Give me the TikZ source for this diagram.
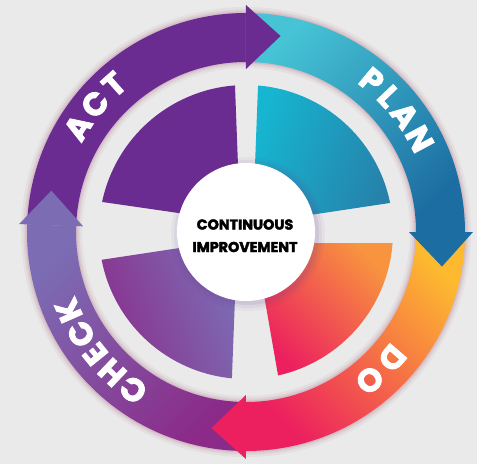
\documentclass[tikz,border=0pt]{standalone}
\usepackage{fontspec}
\newfontfamily\heavy{Poppins}[BoldFeatures={FakeBold=2.6}]
\definecolor{bgcol}{HTML}{EAEAEA}
\definecolor{actc}{HTML}{6A2C91}
\definecolor{planlight}{HTML}{46C4D5}
\definecolor{planmid}{HTML}{1FA0C4}
\definecolor{plandark}{HTML}{1C6EA2}
\definecolor{trlight}{HTML}{16B5D0}
\definecolor{trdark}{HTML}{2682AB}
\definecolor{doyel}{HTML}{FDB92F}
\definecolor{doorg}{HTML}{F47A4A}
\definecolor{dopink}{HTML}{EC1F5F}
\definecolor{chklav}{HTML}{7C6CB4}
\definecolor{chkmid}{HTML}{8448A0}
\definecolor{chkmag}{HTML}{8B2A88}
\definecolor{shadowc}{HTML}{A0506E}
\definecolor{circshadow}{HTML}{6A3A8A}
\tikzset{
  band/.style 2 args={insert path={(#1:219) arc[start angle=#1,end angle=#2,radius=219] -- (#2:170) arc[start angle=#2,end angle=#1,radius=170] -- cycle}},
  head/.style 2 args={insert path={(#1:163) -- (#2:199) -- (#1:227) -- cycle}},
  ringtxt/.style={font=\heavy\bfseries\fontsize{32}{32}\selectfont, text=white, inner sep=0pt, anchor=center},
  centertxt/.style={font=\heavy\bfseries\fontsize{14.3}{14.3}\selectfont, text=black, inner sep=0pt, anchor=center}
}
\begin{document}
\begin{tikzpicture}[x=1pt,y=1pt]
\useasboundingbox (-246,-232) rectangle (231,232);
\fill[bgcol] (-246,-232) rectangle (231,232);

% soft glow of the ring
\foreach \w/\o in {12/0.07,7/0.1,3/0.15}{
  \draw[shadowc, opacity=\o, line width=\w pt] (0,0) circle[radius=219];
  \draw[shadowc, opacity=\o, line width=\w pt] (0,0) circle[radius=170];
}

% inner sectors
\fill[actc] (168.2:147) arc[start angle=168.2,end angle=94.3,radius=147] -- (-7,40) -- (-40,15) -- cycle;
\shade[left color=trlight, right color=trdark, shading angle=70]
  (85.3:147) arc[start angle=85.3,end angle=11.4,radius=147] -- (40,13.4) -- (8,40) -- cycle;
\shade[top color=doorg!60!doyel, bottom color=dopink, shading angle=-45]
  (-4.3:147) arc[start angle=-4.3,end angle=-77.4,radius=147] -- (14,-40) -- (40,-11) -- cycle;
\shade[left color=chkmag!80!chkmid, right color=chklav, shading angle=110]
  (264.5:147) arc[start angle=264.5,end angle=190.9,radius=147] -- (-40,-12) -- (-10,-40) -- cycle;

% ring bands
\fill[actc, band={178}{90}];
\shade[top color=planlight, middle color=planmid, bottom color=plandark, shading angle=45, band={90}{0}];
\shade[top color=doyel, middle color=doorg, bottom color=dopink, shading angle=-45, band={0}{-90}];
\shade[top color=chklav, middle color=chkmid, bottom color=chkmag, shading angle=45, band={270}{178}];

% arrow heads
\fill[actc, head={90}{80}];
\fill[plandark, head={0}{-10}];
\fill[dopink, head={-90}{-100}];
\fill[chklav, head={178}{168}];

% ring labels
\node[ringtxt, rotate=58.1] (actA) at (148.1:198) {A};
\node[ringtxt, rotate=49.7] (actC) at (139.7:198) {C};
\node[ringtxt, rotate=41.8] (actT) at (131.8:198) {T};

\node[ringtxt, rotate=-39.7] (planP) at (50.3:197) {P};
\node[ringtxt, rotate=-46.5] (planL) at (43.5:197) {L};
\node[ringtxt, rotate=-53.7] (planA) at (36.3:197) {A};
\node[ringtxt, rotate=-61.8] (planN) at (28.2:197) {N};

\node[ringtxt, rotate=-130.8] (doD) at (-40.8:193) {D};
\node[ringtxt, rotate=-140.1] (doO) at (-50.1:193) {O};

\node[ringtxt, rotate=144.4] (chkC) at (234.4:194) {C};
\node[ringtxt, rotate=136.4] (chkH) at (226.4:194) {H};
\node[ringtxt, rotate=129.0] (chkE) at (219.0:194) {E};
\node[ringtxt, rotate=121.7] (chkC2) at (211.7:194) {C};
\node[ringtxt, rotate=113.8] (chkK) at (203.8:194) {K};

% centre circle with shadow
\foreach \r/\o in {77/0.05,74/0.07,71/0.1}{
  \fill[circshadow, opacity=\o] (2,-2) circle[radius=\r];
}
\node[circle, fill=white, minimum size=138pt, inner sep=0pt] (hub) at (0,0) {};
\node[centertxt] (cont) at (-1,7.5) {CONTINUOUS};
\node[centertxt] (impr) at (-1,-15) {IMPROVEMENT};
\end{tikzpicture}
\end{document}
